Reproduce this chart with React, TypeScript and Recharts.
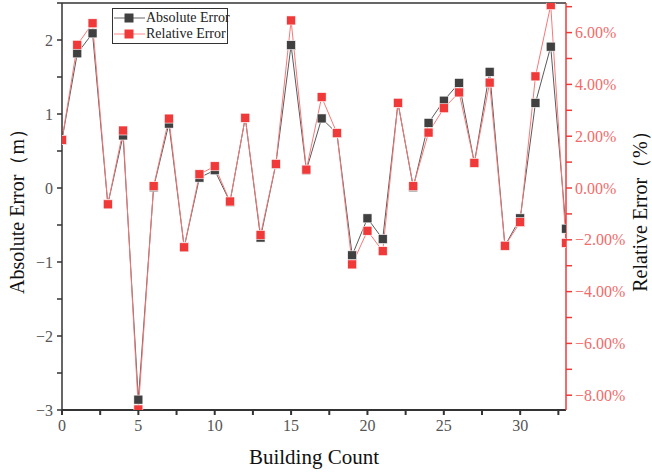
import React from "react";
import {
  LineChart, Line, XAxis, YAxis, Legend, Label, ReferenceLine,
} from "recharts";

// building index on the x axis
const buildings = [
  0, 1, 2, 3, 4, 5, 6, 7, 8, 9, 10, 11, 12, 13, 14, 15, 16,
  17, 18, 19, 20, 21, 22, 23, 24, 25, 26, 27, 28, 29, 30, 31, 32, 33,
];

// absolute error, metres (left axis)
const absErr = [
  0.65, 1.82, 2.09, -0.22, 0.71, -2.86, 0.01, 0.87, -0.8, 0.14, 0.24, -0.19,
  0.95, -0.67, 0.32, 1.93, 0.24, 0.94, 0.74, -0.91, -0.41, -0.69, 1.15, 0.01,
  0.88, 1.18, 1.42, 0.34, 1.57, -0.78, -0.41, 1.15, 1.91, -0.55,
];

// relative error, percent (right axis)
const relErr = [
  1.86, 5.53, 6.36, -0.63, 2.22, -8.55, 0.07, 2.68, -2.29, 0.53, 0.84, -0.52,
  2.71, -1.81, 0.93, 6.47, 0.71, 3.51, 2.12, -2.95, -1.65, -2.44, 3.29, 0.07,
  2.14, 3.08, 3.69, 0.97, 4.07, -2.23, -1.32, 4.31, 7.06, -2.12,
];

const xTicks = [0, 2.5, 5, 7.5, 10, 12.5, 15, 17.5, 20, 22.5, 25, 27.5, 30, 32.5];
const leftTicks = [-3, -2.5, -2, -1.5, -1, -0.5, 0, 0.5, 1, 1.5, 2, 2.5];
const rightTicks = [-8, -7, -6, -5, -4, -3, -2, -1, 0, 1, 2, 3, 4, 5, 6, 7];

const data = buildings.map((b, i) => ({ b, abs: absErr[i], rel: relErr[i] }));

const SERIF = "'Liberation Serif', 'Times New Roman', serif";
const BLACK = "#404040";
const RED = "#f03a3a";

const minus = (s: string) => s.replace("-", "\u2212");

const squareDot = (color: string) => (props: any) => {
  const { cx, cy, index } = props;
  if (cx == null || cy == null) return <g key={`d${index}`} />;
  return (
    <rect
      key={`d${index}`}
      x={cx - 4.5}
      y={cy - 4.5}
      width={9}
      height={9}
      fill={color}
      stroke="#ffffff"
      strokeWidth={0.6}
    />
  );
};

function LegendBox() {
  const row = (color: string, line: string, text: string) => (
    <div style={{ display: "flex", alignItems: "center", height: 16, whiteSpace: "nowrap" }}>
      <svg width={33} height={12} style={{ flexShrink: 0 }}>
        <line x1={1} y1={6} x2={32} y2={6} stroke={line} strokeWidth={1} />
        <rect x={11.5} y={1.5} width={9} height={9} fill={color} />
      </svg>
      <span style={{ fontSize: 14, color: "#222", lineHeight: "16px" }}>{text}</span>
    </div>
  );
  return (
    <div
      style={{
        border: "1px solid #333",
        background: "#fff",
        padding: "1px 0",
        fontFamily: SERIF,
        width: 116,
        boxSizing: "border-box",
        textAlign: "left",
      }}
    >
      {row(BLACK, "#666", "Absolute Error")}
      {row(RED, "#f88", "Relative Error")}
    </div>
  );
}

export default function App() {
  return (
    <div style={{ position: "fixed", left: 0, top: 0, background: "#fff" }}>
      <LineChart
        width={652}
        height={472}
        data={data}
        margin={{ top: 3, right: 0, left: 0, bottom: 0 }}
        style={{ fontFamily: SERIF }}
      >
        <XAxis
          dataKey="b"
          type="number"
          domain={[0, 33]}
          ticks={xTicks}
          allowDataOverflow
          height={62}
          stroke="#333"
          strokeWidth={2}
          tickSize={5}
          tickMargin={5}
          tick={{ fontSize: 16, fill: "#555" }}
          tickFormatter={(v: number) => (v % 5 === 0 ? String(v) : "")}
          interval={0}
        >
          <Label
            value="Building Count"
            position="insideBottom"
            offset={8}
            style={{ fontSize: 21, fill: "#111" }}
          />
        </XAxis>
        <YAxis
          yAxisId="left"
          domain={[-3, 2.5]}
          ticks={leftTicks}
          allowDataOverflow
          width={62}
          stroke="#333"
          strokeWidth={1.5}
          tickSize={5}
          tickMargin={4}
          tick={{ fontSize: 16, fill: "#555" }}
          tickFormatter={(v: number) => (Number.isInteger(v) ? minus(String(v)) : "")}
          interval={0}
        >
          <Label
            value="Absolute Error（m）"
            angle={-90}
            position="insideLeft"
            offset={17}
            style={{ fontSize: 20, fill: "#111", textAnchor: "middle" }}
          />
        </YAxis>
        <YAxis
          yAxisId="right"
          orientation="right"
          domain={[-8.571, 7.143]}
          ticks={rightTicks}
          allowDataOverflow
          width={86}
          stroke={RED}
          strokeWidth={1.5}
          tickSize={6}
          tickMargin={3}
          tick={{ fontSize: 16, fill: "#f26a6a" }}
          tickFormatter={(v: number) =>
            v % 2 === 0 ? minus(`${v.toFixed(2)}%`) : ""
          }
          interval={0}
        >
          <Label
            value="Relative Error（%）"
            angle={-90}
            position="insideRight"
            offset={12}
            style={{ fontSize: 20, fill: "#111", textAnchor: "middle" }}
          />
        </YAxis>
        <ReferenceLine yAxisId="left" y={2.5} stroke="#333" strokeWidth={1.5} />
        <Legend
          layout="horizontal"
          verticalAlign="middle"
          align="center"
          content={() => <LegendBox />}
          wrapperStyle={{ left: 112, top: 8, width: 116, height: "auto" }}
        />
        <Line
          yAxisId="left"
          dataKey="abs"
          stroke="#5a5a5a"
          strokeWidth={1}
          dot={squareDot(BLACK)}
          activeDot={false}
          isAnimationActive={false}
        />
        <Line
          yAxisId="right"
          dataKey="rel"
          stroke="#f87878"
          strokeWidth={1}
          dot={squareDot(RED)}
          activeDot={false}
          isAnimationActive={false}
        />
      </LineChart>
    </div>
  );
}
